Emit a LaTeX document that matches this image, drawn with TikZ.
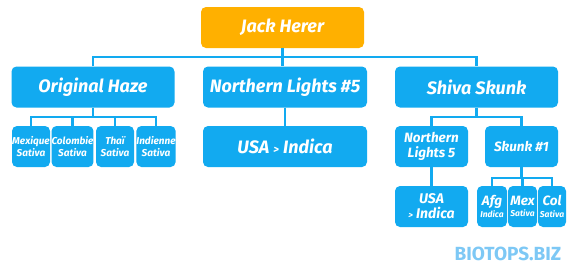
\documentclass[tikz,border=0pt]{standalone}
\usepackage{fontspec}
\setmainfont{Fira Sans}
\usepackage{tikz}
\usetikzlibrary{positioning, calc}
\definecolor{strainBlue}{RGB}{18, 170, 240}
\definecolor{rootOrange}{RGB}{255, 176, 0}
\definecolor{markBlue}{RGB}{125, 200, 245}

\begin{document}
\begin{tikzpicture}[x=1pt, y=-1pt,
  box/.style={fill=strainBlue, rounded corners=5pt, text=white,
              font=\bfseries\itshape, inner sep=0pt, align=center},
  bigbox/.style={box, minimum width=163pt, minimum height=41pt,
                 font=\fontsize{18}{21}\selectfont\bfseries\itshape},
  midbox/.style={box, minimum width=73pt, minimum height=41pt,
                 font=\fontsize{13.5}{14.5}\selectfont\bfseries\itshape},
  tinybox/.style={box, minimum height=41pt,
                  font=\fontsize{10}{11.5}\selectfont\bfseries\itshape},
  link/.style={strainBlue, line width=2.8pt}]

  % ── Cadre ──
  \useasboundingbox[fill=white] (0,0) rectangle (570,269);

  % ── Racine ──
  \node[bigbox, fill=rootOrange] (jack) at (282.5, 27.5) {Jack Herer};

  % ── Niveau 1 ──
  \node[bigbox] (haze)  at (93, 87)    {Original Haze};
  \node[bigbox, minimum width=164pt] (nl5) at (285, 87) {Northern Lights \#5};
  \node[bigbox] (shiva) at (476.5, 87) {Shiva Skunk};

  % ── Niveau 2 ──
  \node[tinybox, minimum width=38pt] (mex)  at (31, 146.5)  {Mexique\\Sativa};
  \node[tinybox, minimum width=39pt] (col)  at (72.5, 146.5) {Colombie\\Sativa};
  \node[tinybox, minimum width=38pt] (thai) at (115, 146.5) {Thaï\\Sativa};
  \node[tinybox, minimum width=38pt] (ind)  at (156, 146.5) {Indienne\\Sativa};
  \node[bigbox, minimum width=164pt] (usa) at (285, 146.5)
    {USA {\fontsize{11}{12}\selectfont >} Indica};
  \node[midbox] (nlb)   at (431.5, 146.5) {Northern\\Lights 5};
  \node[midbox] (skunk) at (521.5, 146.5) {Skunk \#1};

  % ── Niveau 3 ──
  \node[midbox, font=\fontsize{14}{15}\selectfont\bfseries\itshape] (usab) at (431.5, 206.5)
    {USA\\{\fontsize{9}{10}\selectfont >} Indica};
  \node[tinybox, minimum width=30pt] (afg)  at (492, 206.5)
    {{\fontsize{13.5}{14}\selectfont Afg}\\{\fontsize{8.5}{10}\selectfont Indica}};
  \node[tinybox, minimum width=29pt] (mexb) at (522.5, 206.5)
    {{\fontsize{13.5}{14}\selectfont Mex}\\{\fontsize{8.5}{10}\selectfont Sativa}};
  \node[tinybox, minimum width=28pt] (colb) at (552, 206.5)
    {{\fontsize{13.5}{14}\selectfont Col}\\{\fontsize{8.5}{10}\selectfont Sativa}};

  % ── Liens ──
  \coordinate (rootbus)  at (282.5, 57);
  \coordinate (hazebus)  at (93, 117);
  \coordinate (shivabus) at (476.5, 117);
  \coordinate (skunkbus) at (521.5, 178);

  \draw[link] (haze.north) |- (rootbus) -| (shiva.north);
  \draw[link] (jack.south) -- (jack.south |- nl5.north);

  \draw[link] (haze.south) -- (hazebus);
  \draw[link] (mex.north) |- (hazebus) -| (ind.north);
  \draw[link] (col.north) -- (col.north |- hazebus);
  \draw[link] (thai.north) -- (thai.north |- hazebus);

  \draw[link] (nl5.south) -- (usa.north);

  \draw[link] (shiva.south) -- (shivabus);
  \draw[link] (nlb.north) |- (shivabus) -| (skunk.north);
  \draw[link] (nlb.south) -- (usab.north);

  \draw[link] (skunk.south) -- (skunkbus);
  \draw[link] (afg.north) |- (skunkbus) -| (colb.north);
  \draw[link] (mexb.north) -- (mexb.north |- skunkbus);

  % ── Marque ──
  \node[font=\fontsize{19}{22}\selectfont\bfseries, text=markBlue, inner sep=0pt]
    (brand) at (508, 254) {BIOTOPS.BIZ};

\end{tikzpicture}
\end{document}
